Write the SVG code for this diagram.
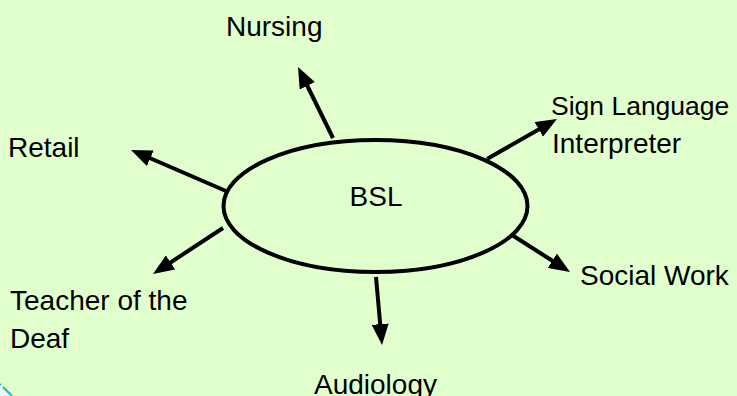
<svg xmlns="http://www.w3.org/2000/svg" width="737" height="396" viewBox="0 0 737 396">
  <style>
    .lbl { font-family: "Liberation Sans", Arial, sans-serif; font-size: 28px; fill: #000000; }
    .conn { stroke: #000000; stroke-width: 4; fill: none; marker-end: url(#arrow); }
  </style>
  <defs>
    <marker id="arrow" markerUnits="userSpaceOnUse" markerWidth="21" markerHeight="17" viewBox="0 0 21 17" refX="7" refY="8.5" orient="auto">
      <path d="M0,0 L21,8.5 L0,17 Z" fill="#000000"/>
    </marker>
  </defs>
  <rect x="0" y="0" width="737" height="396" fill="#E0FFCC"/>
  <g id="corner-fragment">
    <path d="M0,387 L10,396 L0,396 Z" fill="#EEF3FA"/>
    <path d="M0,384 L1,385 M3,387 L12,396" stroke="#1EB0E6" stroke-width="2" fill="none"/>
  </g>
  <g id="connectors">
    <line class="conn" x1="333" y1="138" x2="304.2" y2="79.5"/>
    <line class="conn" x1="487" y1="159" x2="544.8" y2="125.9"/>
    <line class="conn" x1="512" y1="235" x2="558.2" y2="264.5"/>
    <line class="conn" x1="376" y1="277" x2="380.8" y2="331.1"/>
    <line class="conn" x1="226" y1="191" x2="143.9" y2="155.5"/>
    <line class="conn" x1="223" y1="228" x2="164.7" y2="266.3"/>
  </g>
  <g id="node-bsl">
    <ellipse cx="375.5" cy="206" rx="152" ry="66" fill="#E0FFCC" stroke="#000000" stroke-width="4"/>
    <text class="lbl" x="376" y="206" text-anchor="middle">BSL</text>
  </g>
  <g id="node-nursing">
    <text class="lbl" x="226" y="36">Nursing</text>
  </g>
  <g id="node-sign-language">
    <text class="lbl" x="551" y="115" style="font-size:26.5px">Sign Language</text>
    <text class="lbl" x="552" y="153">Interpreter</text>
  </g>
  <g id="node-social-work">
    <text class="lbl" x="580" y="285">Social Work</text>
  </g>
  <g id="node-audiology">
    <text class="lbl" x="314" y="394">Audiology</text>
  </g>
  <g id="node-retail">
    <text class="lbl" x="8" y="157">Retail</text>
  </g>
  <g id="node-teacher">
    <text class="lbl" x="10" y="310">Teacher of the</text>
    <text class="lbl" x="10" y="348">Deaf</text>
  </g>
</svg>
